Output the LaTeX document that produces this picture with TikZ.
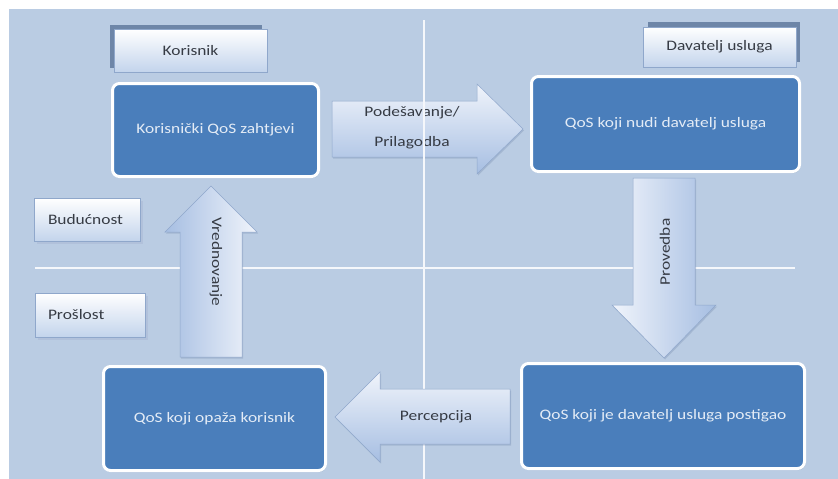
\documentclass[tikz,border=0pt]{standalone}
\usepackage{fontspec}
\setmainfont{Carlito}
\usetikzlibrary{shadows}
\definecolor{panel}{HTML}{BACCE3}
\definecolor{boxblue}{HTML}{4A7EBB}
\definecolor{boxtext}{HTML}{E4ECF6}
\definecolor{labbot}{HTML}{C3D4EC}
\definecolor{labtext}{HTML}{363B44}
\definecolor{shadowc}{HTML}{6E86A8}
\definecolor{arrlight}{HTML}{F0F4FB}
\definecolor{arrdark}{HTML}{A6BEE2}
\definecolor{arredge}{HTML}{8FA7CB}
\newcommand{\sx}[1]{\scalebox{1.2}[1]{#1}}
\tikzset{
  qos/.style={draw=white, line width=3pt, rounded corners=7pt, fill=boxblue,
    text=boxtext, font=\fontsize{14.5}{17}\selectfont, inner sep=0pt,
    drop shadow={shadow xshift=1pt, shadow yshift=-1.5pt, fill=shadowc, opacity=0.35}},
  labelbox/.style={top color=white, bottom color=labbot, draw=arredge, line width=0.4pt,
    text=labtext, font=\fontsize{14.5}{17}\selectfont, inner sep=0pt},
  arrowtext/.style={text=labtext, font=\fontsize{14.5}{30}\selectfont, inner sep=0pt},
  blockh/.style={top color=arrlight, bottom color=arrdark, draw=arredge, line width=0.5pt,
    drop shadow={shadow xshift=1pt, shadow yshift=-1.5pt, fill=shadowc, opacity=0.3}},
  blockv/.style={left color=arrdark, right color=arrlight, draw=arredge, line width=0.5pt,
    drop shadow={shadow xshift=1pt, shadow yshift=-1.5pt, fill=shadowc, opacity=0.3}},
  blockvr/.style={left color=arrlight, right color=arrdark, draw=arredge, line width=0.5pt,
    drop shadow={shadow xshift=1pt, shadow yshift=-1.5pt, fill=shadowc, opacity=0.3}},
  gridline/.style={draw=white!85!panel, line width=1.6pt}
}
\begin{document}
\begin{tikzpicture}[x=1pt, y=-1pt]
\useasboundingbox (0,0) rectangle (838,479);
\fill[white] (0,0) rectangle (838,479);
\fill[panel] (9,9) rectangle (838,479);

% horizontal time line
\coordinate (hl) at (35,268);
\coordinate (hr) at (795,268);
\draw[gridline] (hl) -- (hr);

% Podesavanje arrow (under the vertical line)
\path[blockh] (332,101) -- (477,101) -- (477,84) -- (523,129) -- (477,174) -- (477,157) -- (332,157) -- cycle;
\node[arrowtext, align=center] (pod) at (412,128) {\sx{Podešavanje/}\\\sx{Prilagodba}};

% vertical line
\coordinate (vt) at (424,20);
\coordinate (vb) at (424,479);
\draw[gridline] (vt) -- (vb);

% Percepcija arrow
\path[blockh] (510,389) -- (380,389) -- (380,372) -- (335,417) -- (380,462) -- (380,444) -- (510,444) -- cycle;
\node[arrowtext] (perc) at (436,417) {\sx{Percepcija}};

% Vrednovanje arrow
\path[blockv] (180,357) -- (180,232) -- (165,232) -- (211,186) -- (257,232) -- (242,232) -- (242,357) -- cycle;
\node[arrowtext, rotate=-90] (vred) at (216,262) {\sx{Vrednovanje}};

% Provedba arrow
\path[blockvr] (633,178) -- (695,178) -- (695,305) -- (716,305) -- (664,358) -- (612,305) -- (633,305) -- cycle;
\node[arrowtext, rotate=90] (prov) at (665,252) {\sx{Provedba}};

% QoS boxes
\node[qos, minimum width=206pt, minimum height=93pt] (kor) at (215.5,130) {\sx{Korisnički QoS zahtjevi}};
\node[qos, minimum width=268pt, minimum height=95pt] (nudi) at (665.5,124) {\sx{QoS koji nudi davatelj usluga}};
\node[qos, minimum width=283pt, minimum height=105pt] (post) at (663,416) {\sx{QoS koji je davatelj usluga postigao}};
\node[qos, minimum width=222pt, minimum height=104pt] (opaza) at (214.5,418.5) {\sx{QoS koji opaža korisnik}};

% label boxes
\fill[shadowc] (110,25) rectangle (262,68);
\node[labelbox, minimum width=153pt, minimum height=43pt] (korisnik) at (190.5,50.5) {\sx{Korisnik}};
\fill[shadowc] (648,22) rectangle (800,62);
\node[labelbox, minimum width=153pt, minimum height=40pt] (davatelj) at (719.5,47) {\sx{Davatelj usluga}};
\fill[arredge!70] (37,201) rectangle (143,244);
\node[labelbox, minimum width=106pt, minimum height=43pt, text width=78pt, align=left] (bud) at (87,219.5) {\sx{Budućnost}};
\fill[arredge!70] (38,296) rectangle (148,340);
\node[labelbox, minimum width=110pt, minimum height=44pt, text width=84pt, align=left] (pros) at (90,315) {\sx{Prošlost}};
\end{tikzpicture}
\end{document}
